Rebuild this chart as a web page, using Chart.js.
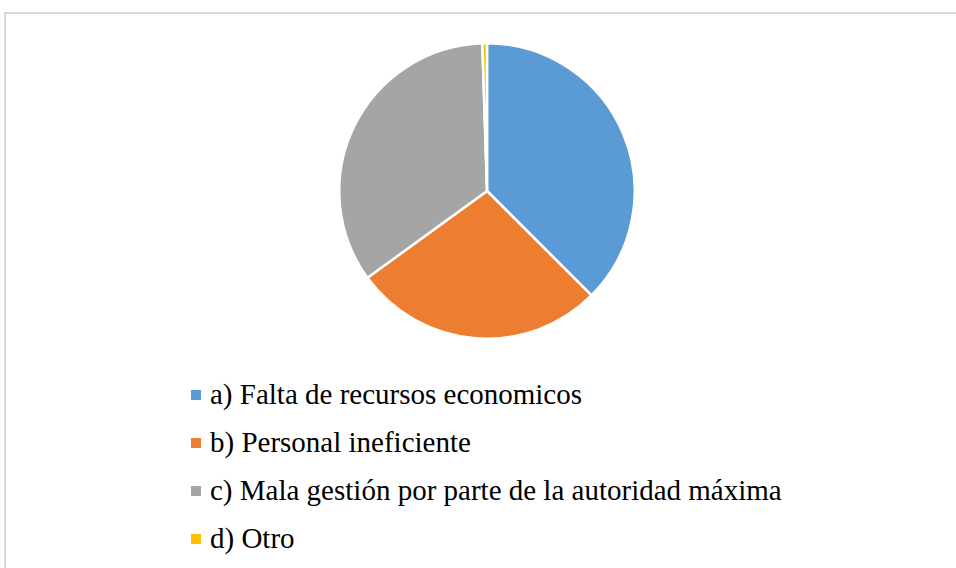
<!DOCTYPE html>
<html>
<head>
<meta charset="utf-8">
<script src="https://cdn.jsdelivr.net/npm/chart.js@4/dist/chart.umd.min.js"></script>
<style>
  html, body { margin: 0; padding: 0; background: #fff; }
  body { width: 956px; height: 568px; position: relative; overflow: hidden; }
  .frame {
    position: absolute; left: 4px; top: 12px; width: 980px; height: 600px;
    border: 2px solid #d9d9d9; box-sizing: border-box;
  }
  #pieWrap { position: absolute; left: 338px; top: 42px; width: 298px; height: 298px; }
  #legend {
    position: absolute; left: 191px; top: 370px; margin: 0; padding: 0; list-style: none;
    font-family: 'Liberation Serif', 'Times New Roman', serif;
    font-size: 29px; color: #000;
  }
  #legend li { height: 48px; display: flex; align-items: center; white-space: nowrap; }
  #legend .box { width: 10px; height: 10px; margin-right: 9px; flex: none; position: relative; top: 1px; }
</style>
</head>
<body>
<div class="frame"></div>
<div id="pieWrap"><canvas id="pieChart"></canvas></div>
<ul id="legend"></ul>
<script>
const labels = [
  'a) Falta de recursos economicos',
  'b) Personal ineficiente',
  'c) Mala gestión por parte de la autoridad máxima',
  'd) Otro'
]
const values = [75, 55, 69, 1]
const colors = ['#5b9bd5', '#ed7d31', '#a5a5a5', '#ffc000']

new Chart(document.getElementById('pieChart'), {
  type: 'pie',
  data: {
    labels: labels,
    datasets: [{
      data: values,
      backgroundColor: colors,
      borderColor: '#ffffff',
      borderWidth: 2.5
    }]
  },
  options: {
    responsive: true,
    maintainAspectRatio: false,
    animation: false,
    layout: { padding: 0 },
    plugins: {
      legend: { display: false },
      tooltip: { enabled: false }
    }
  }
})

// Legend built from the same arrays
const legendEl = document.getElementById('legend')
labels.forEach((label, i) => {
  const li = document.createElement('li')
  const box = document.createElement('span')
  box.className = 'box'
  box.style.background = colors[i]
  li.appendChild(box)
  li.appendChild(document.createTextNode(label))
  legendEl.appendChild(li)
})
</script>
</body>
</html>
